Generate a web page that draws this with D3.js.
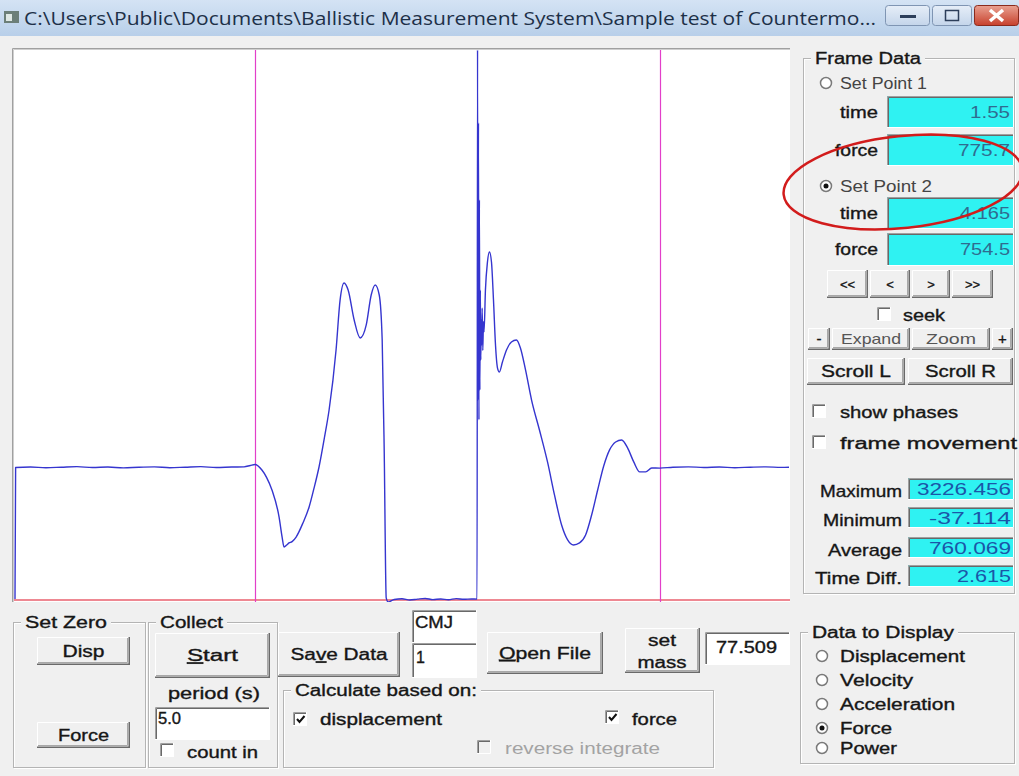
<!DOCTYPE html>
<html>
<head>
<meta charset="utf-8">
<script src="https://cdn.jsdelivr.net/npm/d3@7"></script>
<style>
html, body { margin: 0; padding: 0; background: #f0f0f0; overflow: hidden; }
svg { display: block; font-family: "Liberation Sans", Arial, sans-serif; }
</style>
</head>
<body>
<svg id="win" width="1019" height="776"></svg>
<script>
// force trace of one countermovement jump, values
var timeS = [0.000, 0.004, 0.10, 0.20, 0.30, 0.40, 0.50, 0.60, 0.70, 0.80, 0.90, 1.00, 1.10, 1.20, 1.30, 1.40, 1.48, 1.52, 1.55,
    1.595, 1.625, 1.660, 1.706, 1.725, 1.738, 1.755, 1.770, 1.790, 1.816, 1.860, 1.900, 1.930, 1.964, 2.000, 2.029, 2.074,
    2.100, 2.126, 2.152, 2.191, 2.230, 2.269, 2.301, 2.327, 2.353, 2.372, 2.385, 2.398, 2.41, 2.45, 2.50, 2.55, 2.60, 2.65,
    2.70, 2.75, 2.80, 2.85, 2.90, 2.95, 2.985, 2.988, 2.991, 2.994, 2.997, 3.000, 3.003, 3.006, 3.009, 3.012, 3.015, 3.018,
    3.022, 3.026, 3.030, 3.039, 3.052, 3.065, 3.078, 3.091, 3.104, 3.117, 3.129, 3.149, 3.175, 3.207, 3.239, 3.265, 3.298,
    3.337, 3.388, 3.440, 3.485, 3.531, 3.570, 3.608, 3.647, 3.686, 3.725, 3.764, 3.803, 3.841, 3.880, 3.919, 3.958, 3.997,
    4.036, 4.074, 4.113, 4.165, 4.25, 4.35, 4.45, 4.55, 4.65, 4.75, 4.85, 4.95, 5.00];
var forceN = [-20, 758, 761, 757, 760, 763, 758, 761, 756, 760, 762, 757, 760, 763, 758, 761, 762, 770, 775.7,
    743, 700, 625, 465, 350, 288, 300, 312, 320, 347, 430, 525, 630, 761, 940, 1098, 1453,
    1748, 1849, 1807, 1630, 1524, 1601, 1778, 1837, 1778, 1512, 862, -13, -37.114, -22, -18, -25, -20, -16,
    -23, -19, -24, -17, -21, -19, -20, 3226.456, 1157, 2795, 1040, 2340, 1216, 1807, 1394, 1630, 1482, 1700,
    1450, 1620, 1560, 1807, 1973, 2032, 1973, 1748, 1482, 1346, 1323, 1382, 1453, 1500, 1512, 1465, 1335,
    1157, 980, 791, 596, 418, 330, 300, 312, 359, 477, 625, 767, 862, 909, 921, 873, 791,
    732, 732, 755, 754.5, 760, 762, 758, 761, 757, 760, 762, 759, 760];

var setPointTimes = [1.55, 4.165];
var setPointForces = ["775.7", "754.5"];
var statNames = ["Maximum", "Minimum", "Average", "Time Diff."];
var statValues = ["3226.456", "-37.114", "760.069", "2.615"];
var displayOptions = ["Displacement", "Velocity", "Acceleration", "Force", "Power"];
var selectedOption = "Force";
var periodS = "5.0", massKg = "77.509", testName = "CMJ", trialNo = "1";
var titleText = "C:\\Users\\Public\\Documents\\Ballistic Measurement System\\Sample test of Countermo...";

var svg = d3.select("#win");
var defs = svg.append("defs");

var tg = defs.append("linearGradient").attr("id", "titleGrad").attr("x1", 0).attr("y1", 0).attr("x2", 0).attr("y2", 1);
tg.append("stop").attr("offset", "0%").attr("stop-color", "#d4e3f4");
tg.append("stop").attr("offset", "100%").attr("stop-color", "#b8cfe9");
var cg = defs.append("linearGradient").attr("id", "closeGrad").attr("x1", 0).attr("y1", 0).attr("x2", 0).attr("y2", 1);
cg.append("stop").attr("offset", "0%").attr("stop-color", "#e9a191");
cg.append("stop").attr("offset", "100%").attr("stop-color", "#c7402c");
var bg = defs.append("linearGradient").attr("id", "capGrad").attr("x1", 0).attr("y1", 0).attr("x2", 0).attr("y2", 1);
bg.append("stop").attr("offset", "0%").attr("stop-color", "#e6eef8");
bg.append("stop").attr("offset", "100%").attr("stop-color", "#c4d5ea");

// ---- title bar
svg.append("rect").attr("x", 0).attr("y", 0).attr("width", 1019).attr("height", 36).attr("fill", "url(#titleGrad)");
svg.append("rect").attr("x", 4).attr("y", 11).attr("width", 15).attr("height", 12).attr("fill", "#6c7f78");
svg.append("rect").attr("x", 6).attr("y", 14).attr("width", 6).attr("height", 7).attr("fill", "#dfe8e4");
svg.append("text").attr("x", 24).attr("y", 25).attr("font-size", 18).attr("fill", "#1d3048")
    .attr("font-family", "'Open Sans', 'DejaVu Sans', sans-serif")
    .attr("textLength", 852).attr("lengthAdjust", "spacingAndGlyphs").text(titleText);

var capButtons = [{x: 885, w: 45}, {x: 932, w: 40}, {x: 974, w: 45}];
capButtons.forEach(function(b, i) {
    svg.append("rect").attr("x", b.x + 0.5).attr("y", 5.5).attr("width", b.w - 1).attr("height", 20).attr("rx", 3)
        .attr("fill", i === 2 ? "url(#closeGrad)" : "url(#capGrad)")
        .attr("stroke", i === 2 ? "#8a2a1c" : "#7f95b3");
});
svg.append("rect").attr("x", 900).attr("y", 15).attr("width", 16).attr("height", 3).attr("fill", "#2c3e5a");
svg.append("rect").attr("x", 945.5).attr("y", 10.5).attr("width", 13).attr("height", 10).attr("fill", "none").attr("stroke", "#2c3e5a").attr("stroke-width", 1.5);
svg.append("path").attr("d", "M990,10 L1003,21 M1003,10 L990,21").attr("stroke", "#fff").attr("stroke-width", 3.5);

// ---- plot
var plotBox = {left: 12, top: 48, right: 790, bottom: 602};
var x = d3.scaleLinear().domain([0, +periodS]).range([15, 789]);
var y = d3.scaleLinear().domain(d3.extent(forceN)).range([602, 50]);

svg.append("rect").attr("x", plotBox.left).attr("y", plotBox.top)
    .attr("width", plotBox.right - plotBox.left).attr("height", plotBox.bottom - plotBox.top).attr("fill", "#fff");
svg.append("path").attr("d", "M" + (plotBox.left + 0.5) + "," + plotBox.bottom + "V" + (plotBox.top + 0.5) + "H" + plotBox.right)
    .attr("fill", "none").attr("stroke", "#a0a0a0");
svg.append("path").attr("d", "M" + (plotBox.left + 1.5) + "," + plotBox.bottom + "V" + (plotBox.top + 1.5) + "H" + plotBox.right)
    .attr("fill", "none").attr("stroke", "#cfcfcf");

defs.append("clipPath").attr("id", "plotClip").append("rect")
    .attr("x", plotBox.left + 2).attr("y", plotBox.top + 2)
    .attr("width", plotBox.right - plotBox.left - 2).attr("height", plotBox.bottom - plotBox.top - 2);
var plot = svg.append("g").attr("clip-path", "url(#plotClip)");

plot.append("line").attr("x1", plotBox.left).attr("x2", plotBox.right).attr("y1", 600).attr("y2", 600)
    .attr("stroke", "#e8606e").attr("stroke-width", 1.5);

plot.selectAll(".setPoint").data(setPointTimes).enter().append("line")
    .attr("class", "setPoint")
    .attr("x1", function(d) { return Math.round(x(d)) + 0.5; })
    .attr("x2", function(d) { return Math.round(x(d)) + 0.5; })
    .attr("y1", plotBox.top).attr("y2", plotBox.bottom)
    .attr("stroke", "#e23fc9").attr("stroke-width", 1.2);

var trace = timeS.map(function(t, i) { return {t: t, f: forceN[i]}; });
var line = d3.line().curve(d3.curveMonotoneX)
    .x(function(d) { return x(d.t); }).y(function(d) { return y(d.f); });
plot.append("path").datum(trace).attr("d", line)
    .attr("fill", "none").attr("stroke", "#3535cf").attr("stroke-width", 1.4).attr("stroke-linejoin", "round");

// ---- widgets
var ui = svg.append("g");

function label(xp, yp, s, o) {
    o = o || {};
    var size = o.size || 16;
    var col = o.color || "#161616";
    var t = ui.append("text").attr("x", xp).attr("y", yp + size * 0.36)
        .attr("font-size", size).attr("fill", col)
        .attr("stroke", col).attr("stroke-width", o.light ? 0 : 0.35)
        .attr("text-anchor", o.anchor || "start");
    if (o.ul !== undefined) {
        t.append("tspan").text(s.slice(0, o.ul));
        t.append("tspan").attr("text-decoration", "underline").text(s.charAt(o.ul));
        t.append("tspan").text(s.slice(o.ul + 1));
    } else {
        t.text(s);
    }
    if (o.w) t.attr("textLength", o.w).attr("lengthAdjust", "spacingAndGlyphs");
    return t;
}

function raised(xp, yp, w, h) {
    ui.append("rect").attr("x", xp).attr("y", yp).attr("width", w).attr("height", h).attr("fill", "#f0f0f0");
    ui.append("path").attr("d", "M" + (xp + 0.5) + "," + (yp + h - 1) + "V" + (yp + 0.5) + "H" + (xp + w - 1))
        .attr("fill", "none").attr("stroke", "#ffffff");
    ui.append("path").attr("d", "M" + xp + "," + (yp + h - 0.75) + "H" + (xp + w - 0.75) + "V" + yp)
        .attr("fill", "none").attr("stroke", "#6a6a6a").attr("stroke-width", 1.5);
    ui.append("path").attr("d", "M" + (xp + 1) + "," + (yp + h - 2.5) + "H" + (xp + w - 2.5) + "V" + (yp + 1))
        .attr("fill", "none").attr("stroke", "#a8a8a8");
}

function sunken(xp, yp, w, h, fill) {
    ui.append("rect").attr("x", xp).attr("y", yp).attr("width", w).attr("height", h).attr("fill", fill);
    ui.append("path").attr("d", "M" + (xp + 0.5) + "," + (yp + h) + "V" + (yp + 0.5) + "H" + (xp + w))
        .attr("fill", "none").attr("stroke", "#a0a0a0");
    ui.append("path").attr("d", "M" + (xp + 1.5) + "," + (yp + h - 1) + "V" + (yp + 1.5) + "H" + (xp + w - 1))
        .attr("fill", "none").attr("stroke", "#696969");
    ui.append("path").attr("d", "M" + xp + "," + (yp + h - 0.5) + "H" + (xp + w - 0.5) + "V" + yp)
        .attr("fill", "none").attr("stroke", "#ffffff");
}

function groupBox(xp, yp, w, h, title, tw) {
    ui.append("rect").attr("x", xp + 1.5).attr("y", yp + 1.5).attr("width", w).attr("height", h)
        .attr("fill", "none").attr("stroke", "#ffffff");
    ui.append("rect").attr("x", xp + 0.5).attr("y", yp + 0.5).attr("width", w).attr("height", h)
        .attr("fill", "none").attr("stroke", "#b4b4b4");
    ui.append("rect").attr("x", xp + 8).attr("y", yp - 9).attr("width", tw + 8).attr("height", 18).attr("fill", "#f0f0f0");
    label(xp + 12, yp, title, {w: tw});
}

function checkbox(xp, yp, checked, disabled) {
    sunken(xp, yp, 14, 14, disabled ? "#f0f0f0" : "#ffffff");
    if (checked) {
        ui.append("path").attr("d", "M" + (xp + 4) + "," + (yp + 7) + "l2.5,3l5,-6")
            .attr("fill", "none").attr("stroke", "#111").attr("stroke-width", 2);
    }
}

function radio(cx, cy, selected) {
    ui.append("circle").attr("cx", cx).attr("cy", cy).attr("r", 5.5)
        .attr("fill", "#fff").attr("stroke", "#7a7a7a").attr("stroke-width", 1.5);
    if (selected) ui.append("circle").attr("cx", cx).attr("cy", cy).attr("r", 2.5).attr("fill", "#111");
}

function button(xp, yp, w, h, s, o) {
    raised(xp, yp, w, h);
    label(xp + w / 2, yp + h / 2, s, Object.assign({anchor: "middle"}, o));
}

// Frame Data panel
groupBox(803, 58, 211, 535, "Frame Data", 106);
radio(826, 83, false);
label(840, 83, "Set Point 1", {w: 87, color: "#444", light: true});
radio(826, 186, true);
label(840, 186, "Set Point 2", {w: 92, color: "#444", light: true});

var spRows = [
    {name: "time", y: 96, h: 32, v: setPointTimes[0] + "", vw: 40},
    {name: "force", y: 134, h: 32, v: setPointForces[0], vw: 52},
    {name: "time", y: 197, h: 32, v: setPointTimes[1] + "", vw: 50},
    {name: "force", y: 233, h: 33, v: setPointForces[1], vw: 50}
];
spRows.forEach(function(r) {
    sunken(887, r.y, 127, r.h, "#2ff2f2");
    label(878, r.y + r.h / 2, r.name, {anchor: "end", w: r.name === "time" ? 38 : 43});
    label(1010, r.y + r.h / 2, r.v, {anchor: "end", size: 16, w: r.vw, color: "#2f6c90", light: true});
});

var navLabels = ["<<", "<", ">", ">>"];
var navX = [827, 870, 912, 952], navW = [41, 40, 38, 41];
navLabels.forEach(function(s, i) { button(navX[i], 270, navW[i], 28, s, {size: 13}); });

checkbox(877, 307, false);
label(903, 315, "seek", {w: 42});

var zoomRow = [{x: 808, w: 22, s: "-"}, {x: 832, w: 78, s: "Expand", tw: 60}, {x: 912, w: 78, s: "Zoom", tw: 50}, {x: 992, w: 21, s: "+"}];
zoomRow.forEach(function(b) {
    raised(b.x, 328, b.w, 22);
    label(b.x + b.w / 2, 339, b.s, {anchor: "middle", w: b.tw, color: b.tw ? "#555" : "#161616", size: 15, light: !!b.tw});
});
button(807, 358, 98, 27, "Scroll L", {w: 70});
button(908, 358, 105, 27, "Scroll R", {w: 71});

checkbox(812, 404, false);
label(840, 412, "show phases", {w: 118});
checkbox(812, 435, false);
label(840, 443, "frame movement", {w: 177});

var statY = [478, 507, 537, 565], statH = [22, 21, 21, 22];
var statNameW = [82, 79, 74, 87], statValW = [94, 82, 82, 54];
statNames.forEach(function(s, i) {
    sunken(908, statY[i], 106, statH[i], "#2ff2f2");
    label(902, statY[i] + statH[i] / 2 + 2, s, {anchor: "end", w: statNameW[i], size: 17});
    label(1011, statY[i] + statH[i] / 2, statValues[i], {anchor: "end", w: statValW[i], size: 17, color: "#1b56a8", light: true});
});

// bottom controls
groupBox(13, 622, 132, 145, "Set Zero", 82);
button(37, 637, 93, 28, "Disp", {w: 42});
button(37, 722, 93, 26, "Force", {w: 51});

groupBox(148, 622, 129, 145, "Collect", 63);
button(155, 633, 115, 45, "Start", {w: 51, ul: 0});
label(214, 693, "period (s)", {anchor: "middle", w: 92});
sunken(155, 707, 115, 33, "#ffffff");
label(158, 718, periodS, {w: 23});
checkbox(160, 743, false);
label(187, 752, "count in", {w: 71});

button(278, 632, 122, 45, "Save Data", {w: 97, ul: 2});
sunken(412, 610, 65, 33, "#ffffff");
label(415, 622, testName, {w: 38});
sunken(412, 643, 65, 35, "#ffffff");
label(416, 657, trialNo);

groupBox(283, 690, 430, 77, "Calculate based on:", 182);
checkbox(293, 712, true);
label(320, 719, "displacement", {w: 122});
checkbox(605, 710, true);
label(632, 719, "force", {w: 45});
checkbox(477, 740, false, true);
label(505, 748, "reverse integrate", {w: 155, color: "#a3a3a3", light: true});

button(487, 632, 116, 42, "Open File", {w: 92, ul: 0});
raised(625, 628, 75, 45);
label(662, 640, "set", {anchor: "middle", w: 28});
label(662, 662, "mass", {anchor: "middle", w: 49});
sunken(705, 632, 85, 33, "#ffffff");
label(716, 647, massKg, {w: 61});

groupBox(800, 632, 214, 131, "Data to Display", 142);
var optY = [656, 680, 704, 728, 748], optW = [125, 73, 115, 52, 57];
displayOptions.forEach(function(s, i) {
    radio(822, optY[i], s === selectedOption);
    label(840, optY[i], s, {w: optW[i]});
});

// red annotation ring around Set Point 2
svg.append("ellipse").attr("cx", 903).attr("cy", 182).attr("rx", 120).attr("ry", 46)
    .attr("transform", "rotate(-6,903,182)")
    .attr("fill", "none").attr("stroke", "#d21c1c").attr("stroke-width", 2.5);
</script>
</body>
</html>
